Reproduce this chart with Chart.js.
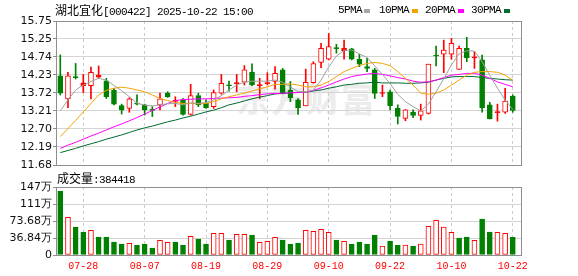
<!DOCTYPE html>
<html><head><meta charset="utf-8">
<script src="https://cdn.jsdelivr.net/npm/chart.js@4.4.0/dist/chart.umd.min.js"></script>
<style>
html,body{margin:0;padding:0;background:#fff;width:578px;height:276px;overflow:hidden;}
#wrap{position:relative;width:578px;height:276px;}
canvas{position:absolute;left:0;top:0;}
.t{position:absolute;white-space:nowrap;font-size:12px;color:#000;line-height:14px;}
.cjk{font-family:"Noto Sans CJK SC",sans-serif;font-size:12px;}
.mono{font-family:"Liberation Mono",monospace;font-size:11px;letter-spacing:-0.6px;}
.sq{position:absolute;width:6px;height:4px;}
#wm{position:absolute;left:236px;top:80px;font-family:"Noto Sans CJK SC";font-weight:700;font-size:34px;line-height:36px;color:#ececec;letter-spacing:1px;white-space:nowrap;}
</style></head>
<body><div id="wrap">
<div id="wm">东方财富</div>
<canvas id="cp" width="578" height="276"></canvas>
<canvas id="cv" width="578" height="276"></canvas>
<div class="t" style="left:55px;top:3px;"><span class="cjk">湖北宜化</span><span class="mono">[000422] 2025-10-22 15:00</span></div>
<div class="t mono" style="left:338px;top:3px;">5PMA</div><div class="sq" style="left:364px;top:9px;background:#a6a6a6;"></div>
<div class="t mono" style="left:379px;top:3px;">10PMA</div><div class="sq" style="left:412px;top:9px;background:#f5a300;"></div>
<div class="t mono" style="left:425px;top:3px;">20PMA</div><div class="sq" style="left:458px;top:9px;background:#ff00ff;"></div>
<div class="t mono" style="left:471px;top:3px;">30PMA</div><div class="sq" style="left:504px;top:9px;background:#006a30;"></div>
<div class="t" style="left:57px;top:171px;"><span class="cjk">成交量</span><span class="mono">:384418</span></div>
</div>
<script>
const dates = ['07-23','07-24','07-25','07-28','07-29','07-30','07-31','08-01','08-04','08-05',
'08-06','08-07','08-08','08-11','08-12','08-13','08-14','08-15','08-18','08-19',
'08-20','08-21','08-22','08-25','08-26','08-27','08-28','08-29','09-01','09-02',
'09-03','09-04','09-05','09-08','09-09','09-10','09-11','09-12','09-15','09-16',
'09-17','09-18','09-19','09-22','09-23','09-24','09-25','09-26','09-29','09-30',
'10-09','10-10','10-13','10-14','10-15','10-16','10-17','10-20','10-21','10-22'];
const tickDates = ['07-28','08-07','08-19','08-29','09-10','09-22','10-10','10-22'];
const open = [14.20,13.55,14.17,13.92,13.92,14.16,14.06,13.80,13.36,13.28,
13.41,13.38,13.26,13.38,13.71,13.48,13.52,13.11,13.64,13.42,
13.33,13.71,13.93,13.98,14.02,14.30,13.92,13.98,14.04,14.37,
13.80,13.52,13.35,14.01,14.58,14.67,14.98,14.91,14.96,14.67,
14.46,14.37,13.70,13.75,13.28,13.00,13.17,13.08,13.14,14.77,
14.81,14.81,14.38,14.98,14.71,14.65,13.38,13.16,13.17,13.63];
const high = [14.79,14.30,14.55,14.24,14.45,14.48,14.13,13.85,13.40,13.58,
13.66,13.40,13.33,13.71,13.75,13.61,13.56,13.96,13.71,13.52,
13.80,14.24,14.05,14.24,14.49,14.54,14.13,14.29,14.46,14.41,
14.04,13.56,14.39,14.60,15.12,15.40,15.09,15.21,14.98,14.81,
14.70,14.41,13.94,13.80,13.38,13.25,13.24,13.40,14.53,15.04,
15.21,15.26,15.04,15.29,14.88,14.79,13.45,13.40,13.85,13.66];
const low = [13.66,13.30,14.11,13.73,13.55,14.13,13.56,13.38,13.12,13.17,
13.38,13.09,13.05,13.24,13.59,13.33,13.09,13.09,13.33,13.28,
13.28,13.68,13.77,13.75,13.94,13.92,13.56,13.94,13.82,13.69,
13.47,13.11,13.35,13.99,14.43,14.65,14.84,14.67,14.65,14.46,
14.32,13.56,13.61,13.24,12.84,12.93,13.02,12.95,13.12,14.48,
14.29,14.67,14.38,14.60,14.41,13.17,12.98,12.92,13.14,13.17];
const close = [13.71,14.20,14.15,14.00,14.30,14.22,13.61,13.40,13.24,13.55,
13.40,13.24,13.22,13.55,13.61,13.50,13.11,13.64,13.38,13.30,
13.73,13.99,13.92,13.99,14.37,13.94,13.95,14.00,14.27,13.71,
13.58,13.30,14.02,14.55,14.98,15.03,14.97,14.98,14.67,14.53,
14.41,13.70,13.72,13.36,13.05,13.24,13.08,13.21,14.53,14.76,
14.93,15.12,14.98,14.71,14.72,13.30,12.98,13.17,13.49,13.22];
const ma5 = [13.21,13.52,13.80,13.94,14.04,14.13,14.08,13.93,13.78,13.61,
13.43,13.37,13.35,13.38,13.41,13.42,13.38,13.44,13.42,13.45,
13.52,13.64,13.80,13.94,14.02,14.05,14.05,14.05,14.08,14.02,
13.89,13.75,13.75,13.80,14.08,14.45,14.76,14.92,14.93,14.82,
14.72,14.48,14.24,13.98,13.68,13.47,13.33,13.21,13.40,13.75,
14.12,14.51,14.82,14.91,14.90,14.60,14.22,13.85,13.52,13.25];
const ma10 = [12.48,12.71,12.94,13.18,13.42,13.66,13.79,13.85,13.88,13.85,
13.80,13.75,13.66,13.56,13.50,13.45,13.42,13.42,13.41,13.42,
13.47,13.55,13.61,13.66,13.71,13.77,13.83,13.89,13.96,13.96,
13.97,13.94,13.89,13.89,13.94,14.04,14.18,14.32,14.41,14.49,
14.55,14.58,14.55,14.49,14.32,14.13,13.94,13.71,13.68,13.71,
13.80,13.94,14.08,14.22,14.30,14.32,14.32,14.30,14.22,14.07];
const ma20 = [12.15,12.24,12.32,12.41,12.50,12.58,12.67,12.76,12.84,12.93,
13.02,13.12,13.22,13.32,13.42,13.50,13.53,13.54,13.55,13.55,
13.56,13.57,13.58,13.59,13.62,13.64,13.67,13.69,13.70,13.71,
13.72,13.73,13.74,13.79,13.86,13.94,14.03,14.11,14.18,14.22,
14.25,14.27,14.24,14.20,14.15,14.11,14.05,14.02,14.03,14.08,
14.15,14.22,14.24,14.27,14.27,14.22,14.13,14.03,13.96,13.89];
const ma30 = [12.03,12.09,12.15,12.22,12.28,12.34,12.41,12.47,12.53,12.60,
12.67,12.73,12.78,12.84,12.90,12.95,13.01,13.06,13.12,13.18,
13.23,13.30,13.38,13.43,13.49,13.55,13.60,13.64,13.69,13.70,
13.72,13.73,13.74,13.77,13.80,13.85,13.89,13.94,13.96,13.99,
14.00,14.02,14.00,14.00,14.00,13.99,13.99,14.00,14.02,14.08,
14.13,14.17,14.18,14.18,14.18,14.15,14.13,14.11,14.09,14.08];
const volume = [138.7,81.7,60.7,49.8,53.4,39.0,39.0,28.2,23.8,25.3,
21.7,23.8,15.2,31.8,27.4,28.2,21.7,40.4,34.7,23.8,
46.9,46.9,32.5,44.8,44.8,43.3,27.4,29.6,38.4,32.5,
23.8,26.0,53.4,51.3,55.6,49.1,32.5,29.6,23.8,28.2,
23.8,43.3,19.5,30.3,21.7,21.7,19.5,23.8,62.1,75.1,
60.7,49.1,36.8,39.0,31.8,78.0,49.8,49.1,46.9,38.44];
const priceTicks = [11.68,12.19,12.70,13.21,13.72,14.23,14.74,15.25,15.75];
const volTicks = [0,36.84,73.68,110.52,147.36];
const volTickLabels = ['0','36.84万','73.68万','111万','147万'];

const RED = '#ff0000', GREEN = '#008000';
const X_MIN = 0.44, X_MAX = 61.2;
const tickIdx = tickDates.map(d => dates.indexOf(d) + 1);
const isUp = i => close[i] >= open[i];
const volUp = i => i === 0 ? close[0] >= open[0] : close[i] >= close[i-1];

const frame = {id:'frame', afterDatasetsDraw(c){
  const {ctx, chartArea:a} = c;
  ctx.save(); ctx.strokeStyle = '#8e8e8e'; ctx.lineWidth = 1;
  ctx.strokeRect(Math.round(a.left)+0.5, Math.round(a.top)+0.5, Math.round(a.right-a.left)-1, Math.round(a.bottom-a.top));
  ctx.restore();
}};

const xScale = (showLabels) => ({
  type:'linear', min:X_MIN, max:X_MAX, offset:false,
  grid:{offset:false, color:'#cccccc', drawTicks:false, lineWidth:1},
  border:{display:false, dash:[3,3]},
  ticks:{display:showLabels, autoSkip:false, maxRotation:0, padding:5, color:RED,
         font:{family:'Liberation Mono', size:10}, callback:v => dates[v-1]},
  afterBuildTicks: s => { s.ticks = tickIdx.map(v => ({value:v})); },
  afterFit: s => { s.height = showLabels ? 21 : 0; }
});

const line = (data, color) => ({
  type:'line', data:data.map((v,i)=>({x:i+1, y:v})), borderColor:color, borderWidth:1,
  pointRadius:0, tension:0, fill:false, order:0
});

new Chart(document.getElementById('cp'), {
  type:'bar',
  data:{datasets:[
    line(ma5,'#a0a0a0'), line(ma10,'#f5a300'), line(ma20,'#ff00ff'), line(ma30,'#006a30'),
    { data: open.map((o,i)=>({x:i+1, y:[o, close[i]]})), order:1, grouped:false,
      barThickness:5, minBarLength:1, borderWidth:1, borderSkipped:false,
      borderColor: open.map((o,i)=> isUp(i) ? RED : GREEN),
      backgroundColor: open.map((o,i)=> isUp(i) ? (Math.abs(close[i]-o) < 0.09 ? RED : '#ffffff') : GREEN) },
    { data: low.map((l,i)=>({x:i+1, y:[l, high[i]]})), order:2, grouped:false,
      barThickness:1, borderWidth:0,
      backgroundColor: low.map((l,i)=> isUp(i) ? RED : GREEN) }
  ]},
  options:{
    responsive:false, animation:false, events:[],
    layout:{padding:{left:0, right:56, top:21, bottom:111}},
    plugins:{legend:{display:false}, tooltip:{enabled:false}},
    scales:{
      x: xScale(false),
      y:{min:11.68, max:15.75,
         grid:{color:'#d4d4d4', tickLength:3, tickColor:'#8e8e8e'}, border:{display:false},
         ticks:{padding:1, color:'#111', font:{family:'DejaVu Sans', size:11}, callback:v => v.toFixed(2)},
         afterBuildTicks: s => { s.ticks = priceTicks.map(v => ({value:v})); },
         afterFit: s => { s.width = 56; }}
    }
  },
  plugins:[frame]
});

new Chart(document.getElementById('cv'), {
  type:'bar',
  data:{datasets:[
    { data: volume.map((v,i)=>({x:i+1, y:v})), grouped:false, barThickness:5, borderWidth:1, borderSkipped:false,
      borderColor: volume.map((v,i)=> volUp(i) ? RED : GREEN),
      backgroundColor: volume.map((v,i)=> volUp(i) ? '#ffffff' : GREEN) }
  ]},
  options:{
    responsive:false, animation:false, events:[],
    layout:{padding:{left:0, right:56, top:187, bottom:0}},
    plugins:{legend:{display:false}, tooltip:{enabled:false}},
    scales:{
      x: xScale(true),
      y:{min:0, max:147.36,
         grid:{color:'#d4d4d4', tickLength:3, tickColor:'#8e8e8e'}, border:{display:false},
         ticks:{padding:1, color:'#111', font:{family:'DejaVu Sans', size:11}, callback:(v,i) => volTickLabels[i]},
         afterBuildTicks: s => { s.ticks = volTicks.map(v => ({value:v})); },
         afterFit: s => { s.width = 56; }}
    }
  },
  plugins:[frame]
});
</script>
</body></html>
